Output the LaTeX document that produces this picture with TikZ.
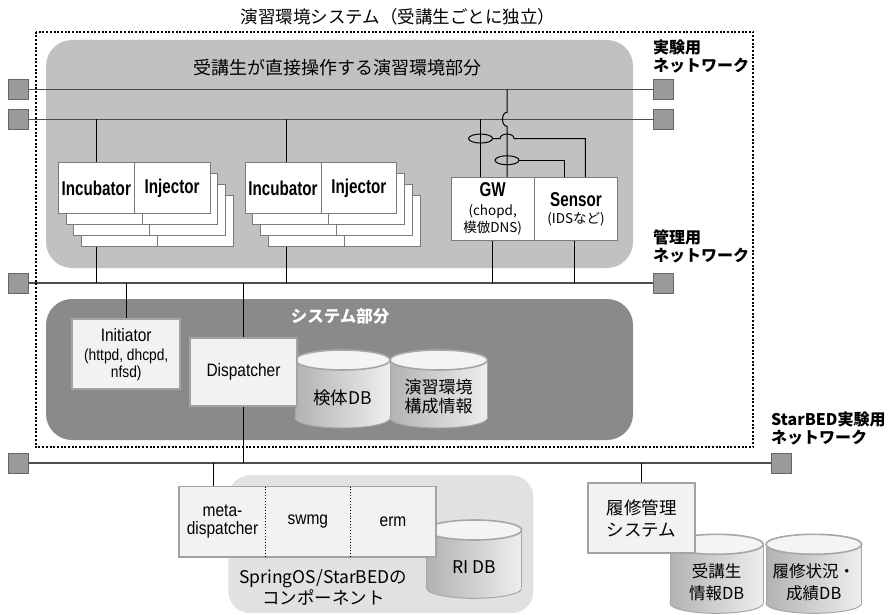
\documentclass[tikz,border=0pt]{standalone}
\usepackage{fontspec}
\setmainfont{Noto Sans CJK JP}
\newfontfamily\cond[FakeStretch=0.86]{Liberation Sans}
\newfontfamily\condb[FakeStretch=0.76]{Liberation Sans}
\usetikzlibrary{calc}
\definecolor{panelA}{HTML}{C0C1C1}
\definecolor{panelB}{HTML}{8A8A8A}
\definecolor{panelC}{HTML}{E1E1E1}
\definecolor{boxfill}{HTML}{F1F3F3}
\definecolor{boxline}{HTML}{A2A4A4}
\definecolor{sqfill}{HTML}{9A9A9A}
\definecolor{sqline}{HTML}{666666}
\definecolor{netline}{HTML}{4D4D4D}
\definecolor{stackline}{HTML}{7A7A7A}
\definecolor{dbleft}{HTML}{B2B2B2}
\definecolor{dbright}{HTML}{EEEEEE}
\definecolor{dbtopc}{HTML}{F4F4F4}
\definecolor{dbedge}{HTML}{A6A6A6}
\newcommand\fsz[2]{\fontsize{#1}{#2}\selectfont}
\newcommand\incfont{\condb\bfseries\fsz{20}{22}}
\pgfdeclarelayer{back}
\pgfdeclarelayer{wires}
\pgfsetlayers{back,wires,main}
\tikzset{
  panelbox/.style={rectangle, inner sep=0pt, rounded corners=26pt, draw=none},
  envarea/.style={rectangle, inner sep=0pt},
  envbound/.style={draw=black, line width=2.4pt, dash pattern=on 2pt off 1.7pt, line cap=butt},
  netsq/.style={rectangle, draw=sqline, fill=sqfill, line width=0.8pt, minimum size=20pt, inner sep=0pt},
  net/.style={draw=netline, line width=1.4pt},
  wire/.style={draw=black, line width=1pt},
  stackbox/.style={rectangle, draw=stackline, fill=white, line width=1pt, minimum height=50.6pt, inner sep=0pt},
  lightbox/.style={rectangle, draw=boxline, fill=boxfill, line width=1.8pt, inner sep=0pt, align=center},
  partbox/.style={rectangle, fill=boxfill, minimum height=70pt, inner sep=0pt, align=center, font=\cond\fsz{18}{18.3}},
  boxedge/.style={draw=boxline, line width=1.8pt},
  netlab/.style={anchor=west, align=left, inner sep=0pt, font=\bfseries\fsz{16}{18}},
  dbshade/.style={left color=dbleft, right color=dbright},
  dbline/.style={draw=dbedge, line width=1pt},
  dbtop/.style={fill=dbtopc, draw=dbedge, line width=1.6pt},
}
\newcommand\drawdb[4]{%
  \pgfmathsetmacro\dbcx{(#1+#2)/2}%
  \pgfmathsetmacro\dbrx{(#2-#1)/2}%
  \pgfmathsetmacro\dbyb{#4-10}%
  \pgfmathsetmacro\dbyt{#3+10}%
  \shade[dbshade] (\dbcx,\dbyb) ellipse [x radius=\dbrx pt, y radius=10pt];
  \draw[dbline] (\dbcx,\dbyb) ellipse [x radius=\dbrx pt, y radius=10pt];
  \shade[dbshade] (#1,\dbyt) rectangle (#2,\dbyb);
  \draw[dbline] (#1,\dbyt) -- (#1,\dbyb) (#2,\dbyt) -- (#2,\dbyb);
  \filldraw[dbtop] (\dbcx,\dbyt) ellipse [x radius=\dbrx pt, y radius=10pt];
}
\begin{document}
\begin{tikzpicture}[x=1pt,y=-1pt]
\useasboundingbox (0,0) rectangle (888,615);

% panels
\begin{pgfonlayer}{back}
\node[panelbox, fill=panelA, minimum width=587pt, minimum height=228pt] (envp) at (339.5,154) {};
\node[panelbox, fill=panelB, minimum width=587pt, minimum height=141pt] (sysp) at (339.5,369.5) {};
\node[panelbox, rounded corners=22pt, fill=panelC, minimum width=305pt, minimum height=138pt] (sprp) at (380.8,544.2) {};
\end{pgfonlayer}

% titles
\node[font=\fsz{17.5}{21}] (envtitle) at (398,17) {演習環境システム（受講生ごとに独立）};
\node[font=\fsz{18}{21}] (envptitle) at (337.5,68) {受講生が直接操作する演習環境部分};
\node[font=\bfseries\fsz{16.5}{20}, text=white] (sysptitle) at (340,316.7) {システム部分};

% network ports
\foreach \n/\x/\y in {sL1/18/89.3, sR1/663.5/89.3, sL2/18/119.3, sR2/663.5/119.3, sLm/18/283, sRm/663.5/283, sLs/18/463, sRs/781.7/463}
  \node[netsq] (\n) at (\x,\y) {};

% network labels
\node[netlab] (lab1) at (653,56) {実験用\\ネットワーク};
\node[netlab] (lab2) at (653,246.5) {管理用\\ネットワーク};
\node[netlab] (lab3) at (771,428) {StarBED実験用\\ネットワーク};

% incubator / injector stacks
\foreach \g/\cx in {1/96.3, 2/283} {
  \foreach \k in {3,2,1} {
    \node[stackbox, minimum width=76pt] (inc\g c\k) at (\cx+7.8*\k, 188+11*\k) {};
    \node[stackbox, minimum width=75.7pt] (inj\g c\k) at (\cx+75.85+7.8*\k, 188+11*\k) {};
  }
}
\node[stackbox, minimum width=76pt, font=\incfont] (inc1) at (96.3,188) {Incubator};
\node[stackbox, minimum width=75.7pt, font=\incfont] (inj1) at (172.15,188) {Injector};
\node[stackbox, minimum width=76pt, font=\incfont] (inc2) at (283,188) {Incubator};
\node[stackbox, minimum width=75.7pt, font=\incfont] (inj2) at (358.85,188) {Injector};

% GW / Sensor
\node[stackbox, minimum width=83.3pt, minimum height=62.3pt, align=center, font=\fsz{13.5}{17}] (gw) at (492.7,208.9) {{\incfont GW}\\[2pt](chopd,\\模倣DNS)};
\node[stackbox, minimum width=83.4pt, minimum height=62.3pt, align=center, font=\fsz{13.5}{17}] (sensor) at (576,208.9) {{\incfont Sensor}\\(IDSなど)};

% system part
\drawdb{295}{390}{350}{428}
\node[font=\fsz{17.5}{20}] (kentai) at (342.5,398) {検体DB};
\drawdb{390}{487.3}{350}{428}
\node[font=\fsz{17}{19}, align=center] (ensh) at (438.7,397) {演習環境\\構成情報};
\node[lightbox, minimum width=107.7pt, minimum height=69.7pt, font=\cond\fsz{16}{16.7}] (init) at (126.2,354.2) {{\fsz{18}{20}Initiator}\\[2.6pt](httpd, dhcpd,\\nfsd)};
\node[lightbox, minimum width=107pt, minimum height=68.3pt, font=\cond\fsz{18}{20}] (disp) at (243.5,371.9) {Dispatcher};

% SpringOS / StarBED components
\drawdb{426.7}{521.7}{520}{598.3}
\node[font=\fsz{17.5}{20}] (ridb) at (474.2,566.7) {RI DB};
\node[partbox, minimum width=86.4pt] (md) at (222.5,521.7) {meta-\\dispatcher};
\node[partbox, minimum width=84.3pt] (sw) at (307.85,521.7) {swmg};
\node[partbox, minimum width=86pt] (er) at (393,521.7) {erm};
\draw[boxedge] (md.north west) rectangle (er.south east);
\draw[dotted, line width=0.9pt] (md.north east) -- (md.south east) (sw.north east) -- (sw.south east);
\node[font=\fsz{17.5}{21.6}, align=center] (sprlab) at (323.3,587.5) {SpringOS/StarBEDの\\コンポーネント};

% course management
\drawdb{670}{763.3}{534.3}{613.3}
\node[font=\fsz{16.5}{21.7}, align=center] (jdb) at (716.7,582) {受講生\\情報DB};
\drawdb{766}{861.7}{534.3}{613.3}
\node[font=\fsz{16.5}{21.7}, align=center] (rdb) at (813.8,582) {履修状況・\\成績DB};
\node[lightbox, minimum width=106.7pt, minimum height=70pt, font=\fsz{17.5}{21.7}] (rishu) at (641.7,518.3) {履修管理\\システム};

% dotted boundary of the exercise environment system
\node[envarea, minimum width=717pt, minimum height=415pt] (envb) at (394.5,239.5) {};
\draw[envbound] (envb.north west) rectangle (envb.south east);

% wires
\begin{pgfonlayer}{wires}
\draw[net] (sL1.east) -- (sR1.west);
\draw[net] (sL2.east) -- (sR2.west);
\draw[net] (sLm.east) -- (sRm.west);
\draw[net] (sLs.east) -- (sRs.west);

\coordinate (inc2tap) at ($(inc2.north)+(3,0)$);
\draw[wire] (inc1.north) -- (inc1.north |- sL2.east);
\draw[wire] (inc2tap) -- (inc2tap |- sL2.east);
\draw[wire] (inc1.south |- inc1c3.south) -- (inc1.south |- sLm.east);
\draw[wire] (inc2tap |- inc2c3.south) -- (inc2tap |- sLm.east);

\coordinate (gwA) at ($(gw.north west)!0.356!(gw.north east)$);
\coordinate (gwB) at ($(gw.north west)!0.67!(gw.north east)$);
\coordinate (snA) at ($(sensor.north west)!0.36!(sensor.north east)$);
\coordinate (snB) at ($(sensor.north west)!0.61!(sensor.north east)$);
\coordinate (snC) at ($(sensor.south)+(-2,0)$);
\coordinate (tap1) at ($(gwA)+(0,-38.7)$);
\coordinate (tap2) at ($(gwB)+(0,-17)$);
\draw[wire] (gwA) -- (gwA |- sL2.east);
\draw[wire] (gwB) -- ($(gwB |- sL2.east)+(0,7)$) .. controls +(-6,0) and +(-6,0) .. ($(gwB |- sL2.east)+(0,-7)$) -- (gwB |- sL1.east);
\draw[wire] (tap1) ellipse [x radius=12pt, y radius=4.5pt];
\draw[wire] (tap2) ellipse [x radius=12pt, y radius=4.5pt];
\draw[wire] ($(tap1)+(12,0)$) -- ($(tap1 -| gwB)+(-7,0)$) .. controls +(0,-6) and +(0,-6) .. ($(tap1 -| gwB)+(7,0)$) -- (tap1 -| snB) -- (snB);
\draw[wire] ($(tap2)+(12,0)$) -- (tap2 -| snA) -- (snA);
\draw[wire] (gw.south) -- (gw.south |- sLm.east);
\draw[wire] (snC) -- (snC |- sLm.east);

\draw[wire] (init.north) -- (init.north |- sLm.east);
\draw[wire] (disp.north |- sLm.east) -- (disp.south |- sLs.east);

\coordinate (mdtap) at ($(md.north west)!0.4!(md.north east)$);
\draw[wire] (mdtap) -- (mdtap |- sLs.east);
\draw[wire] (rishu.north) -- (rishu.north |- sLs.east);
\end{pgfonlayer}
\end{tikzpicture}
\end{document}
